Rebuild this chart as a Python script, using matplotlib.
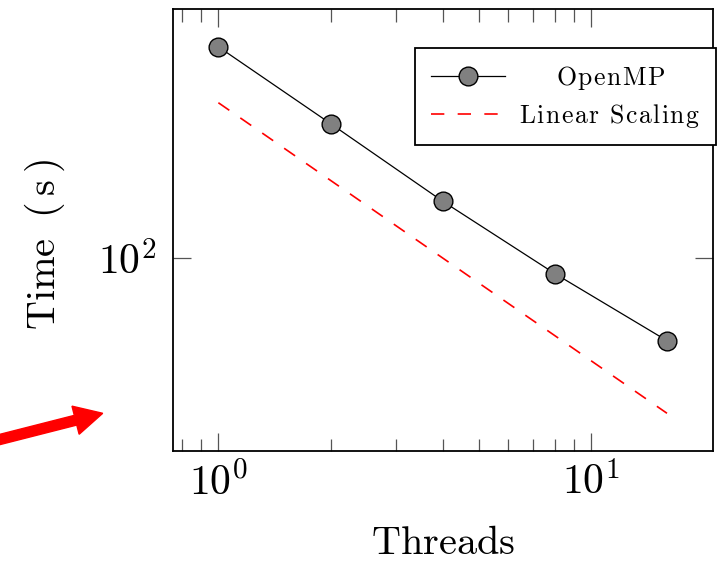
import matplotlib
matplotlib.use('Agg')
import matplotlib.pyplot as plt
from matplotlib.ticker import FixedLocator, FixedFormatter, NullLocator
from matplotlib.patches import FancyArrow
from matplotlib.transforms import IdentityTransform

# data
threads = [1, 2, 4, 8, 16]
openmp_time = [659, 332, 166, 87, 47.8]
linear_time = [400, 200, 100, 50, 25]

x_major = [1, 10]
x_major_labels = [r'$10^{0}$', r'$10^{1}$']
x_minor = [0.8, 0.9, 2, 3, 4, 5, 6, 7, 8, 9]
y_major = [100]
y_major_labels = [r'$10^{2}$']

plt.rcParams['mathtext.fontset'] = 'cm'


def spaced(text, gap=0.07, lead=0.0):
    # pgfplots legend look: small font scaled up, so letters sit wide apart
    parts = []
    for ch in text:
        parts.append(r'\ ' if ch == ' ' else r'\mathrm{%s}' % ch)
    body = (r'\hspace{%.3f}' % gap).join(parts)
    return r'$\hspace{%.2f}%s$' % (lead, body)


fig = plt.figure(figsize=(7.21, 5.61), dpi=100)
ax = fig.add_axes([0.2404, 0.1966, 0.7489, 0.7868])

ax.plot(threads, openmp_time, color='black', lw=0.9, marker='o', ms=13.5,
        mfc='#808080', mec='black', mew=1.0,
        label=spaced('OpenMP', lead=1.65))
ax.plot(threads, linear_time, color='red', lw=1.2, ls=(0, (8, 8)),
        label=spaced('Linear Scaling'))

ax.set_xscale('log')
ax.set_yscale('log')
ax.set_xlim(0.757, 21.3)
ax.set_ylim(17.9, 921)

ax.xaxis.set_major_locator(FixedLocator(x_major))
ax.xaxis.set_major_formatter(FixedFormatter(x_major_labels))
ax.xaxis.set_minor_locator(FixedLocator(x_minor))
ax.xaxis.set_minor_formatter(FixedFormatter([]))
ax.yaxis.set_major_locator(FixedLocator(y_major))
ax.yaxis.set_major_formatter(FixedFormatter(y_major_labels))
ax.yaxis.set_minor_locator(NullLocator())

ax.tick_params(which='both', direction='in', top=True, right=True,
               color='#555555', width=0.9, labelsize=30)
ax.tick_params(which='major', length=13)
ax.tick_params(which='minor', length=9)
ax.tick_params(axis='x', pad=8)
ax.tick_params(axis='y', pad=12)

for s in ax.spines.values():
    s.set_linewidth(1.3)
    s.set_color('black')

ax.set_xlabel(r'$\mathrm{Threads}$', fontsize=29, va='top')
ax.xaxis.set_label_coords(0.5, -0.163)
ax.set_ylabel(r'$\mathrm{Time}\hspace{0.6}\mathrm{(\hspace{0.18}s\hspace{0.18})}$',
              fontsize=29)
ax.yaxis.set_label_coords(-0.197, 0.466)

leg = ax.legend(loc='upper right', bbox_to_anchor=(1.005, 0.912),
                borderaxespad=0, fontsize=18.5, numpoints=1,
                handlelength=2.9, handletextpad=0.55, borderpad=0.6,
                labelspacing=0.4, fancybox=False, framealpha=1,
                edgecolor='black')
leg.get_frame().set_linewidth(1.3)

# red arrow drawn in pixel space at the lower left
arrow = FancyArrow(-10, 119, 112.7, 28.7, width=10, head_width=29,
                   head_length=28, length_includes_head=True,
                   color='red', transform=IdentityTransform())
fig.add_artist(arrow)

fig.savefig('out.png', dpi=100)
